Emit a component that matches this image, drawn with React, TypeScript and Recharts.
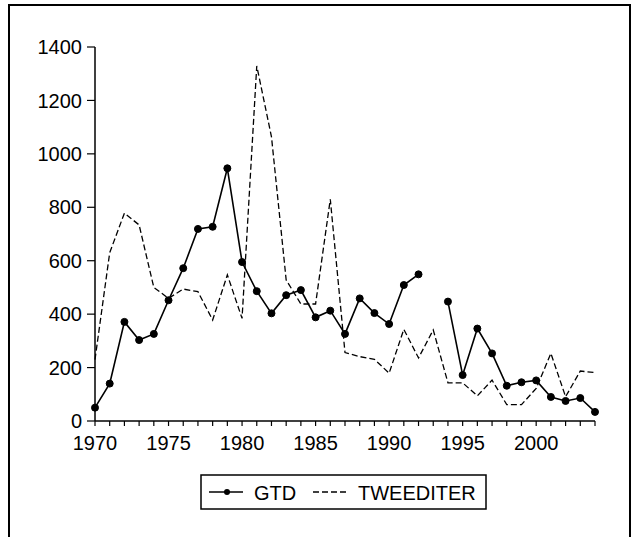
import React from 'react';
import { LineChart, Line, XAxis, YAxis } from 'recharts';

const years = [
  1970, 1971, 1972, 1973, 1974, 1975, 1976, 1977, 1978, 1979,
  1980, 1981, 1982, 1983, 1984, 1985, 1986, 1987, 1988, 1989,
  1990, 1991, 1992, 1993, 1994, 1995, 1996, 1997, 1998, 1999,
  2000, 2001, 2002, 2003, 2004,
];

// GTD has no value for 1993
const gtd = [
  50, 140, 371, 303, 326, 452, 572, 719, 727, 946,
  595, 486, 403, 471, 490, 388, 413, 326, 459, 404,
  363, 509, 549, null, 447, 172, 346, 253, 132, 145,
  152, 90, 75, 86, 34,
];

const tweediter = [
  230, 630, 778, 734, 500, 459, 494, 484, 378, 547,
  384, 1329, 1064, 528, 438, 438, 830, 256, 241, 231,
  179, 343, 236, 341, 143, 143, 94, 153, 61, 61,
  122, 253, 91, 187, 181,
];

const yTicks = [0, 200, 400, 600, 800, 1000, 1200, 1400];

const data = years.map((year, i) => ({ year, gtd: gtd[i], tweediter: tweediter[i] }));

const FONT = 'Liberation Sans, Arial, sans-serif';

const YearTick = (props: any) => {
  const { x, y, payload } = props;
  if (payload.value % 5 !== 0) return <g />;
  return (
    <text x={x} y={y} dy="0.71em" textAnchor="middle" fill="#000" fontSize={20} fontFamily={FONT}>
      {payload.value}
    </text>
  );
};

const LegendBox = () => (
  <svg width={632} height={537} style={{ position: 'absolute', left: 0, top: 0, pointerEvents: 'none' }}>
    <rect x={201} y={475} width={285} height={34} fill="none" stroke="#000" strokeWidth={1.5} />
    <line x1={209} y1={492} x2={243} y2={492} stroke="#000" strokeWidth={1.6} />
    <circle cx={227} cy={492} r={3} fill="#000" />
    <text x={254} y={500} fontSize={20} fontFamily={FONT} fill="#000">GTD</text>
    <line x1={313} y1={492} x2={347} y2={492} stroke="#000" strokeWidth={1.3} strokeDasharray="6 3" />
    <text x={358} y={500} fontSize={20} fontFamily={FONT} fill="#000">TWEEDITER</text>
  </svg>
);

export default function App() {
  return (
    <div style={{ position: 'absolute', left: 0, top: 0, width: 632, height: 537, background: '#fff', overflow: 'hidden' }}>
      <div
        style={{
          position: 'absolute',
          left: 8,
          top: 4,
          width: 619,
          height: 540,
          borderLeft: '2px solid #000',
          borderTop: '2px solid #000',
          borderRight: '2px solid #000',
        }}
      />
      <LineChart
        width={632}
        height={537}
        data={data}
        margin={{ top: 47, right: 37, left: 27, bottom: 86 }}
        style={{ position: 'absolute', left: 0, top: 0 }}
      >
        <XAxis
          dataKey="year"
          type="number"
          domain={[1970, 2004]}
          ticks={years}
          interval={0}
          height={30}
          tickSize={5}
          tickMargin={10}
          tick={<YearTick />}
          axisLine={{ stroke: '#000', strokeWidth: 1.5 }}
          tickLine={{ stroke: '#000', strokeWidth: 1.2 }}
        />
        <XAxis
          xAxisId="top"
          orientation="top"
          dataKey="year"
          type="number"
          domain={[1970, 2004]}
          height={0}
          tick={false}
          tickLine={false}
          axisLine={{ stroke: '#000', strokeWidth: 1.5 }}
        />
        <YAxis
          domain={[0, 1400]}
          ticks={yTicks}
          interval={0}
          width={68}
          tickSize={8}
          tickMargin={5}
          tick={{ fill: '#000', fontSize: 20, fontFamily: FONT }}
          axisLine={{ stroke: '#000', strokeWidth: 1.5 }}
          tickLine={{ stroke: '#000', strokeWidth: 1.2 }}
        />
        <YAxis
          yAxisId="right"
          orientation="right"
          domain={[0, 1400]}
          width={0}
          tick={false}
          tickLine={false}
          axisLine={{ stroke: '#000', strokeWidth: 1.5 }}
        />
        <Line
          dataKey="tweediter"
          type="linear"
          stroke="#000"
          strokeWidth={1.3}
          strokeDasharray="6 3"
          dot={false}
          activeDot={false}
          isAnimationActive={false}
        />
        <Line
          dataKey="gtd"
          type="linear"
          stroke="#000"
          strokeWidth={1.6}
          dot={{ r: 3.5, fill: '#000', stroke: '#000', strokeWidth: 1 }}
          activeDot={false}
          connectNulls={false}
          isAnimationActive={false}
        />
      </LineChart>
      <LegendBox />
    </div>
  );
}
